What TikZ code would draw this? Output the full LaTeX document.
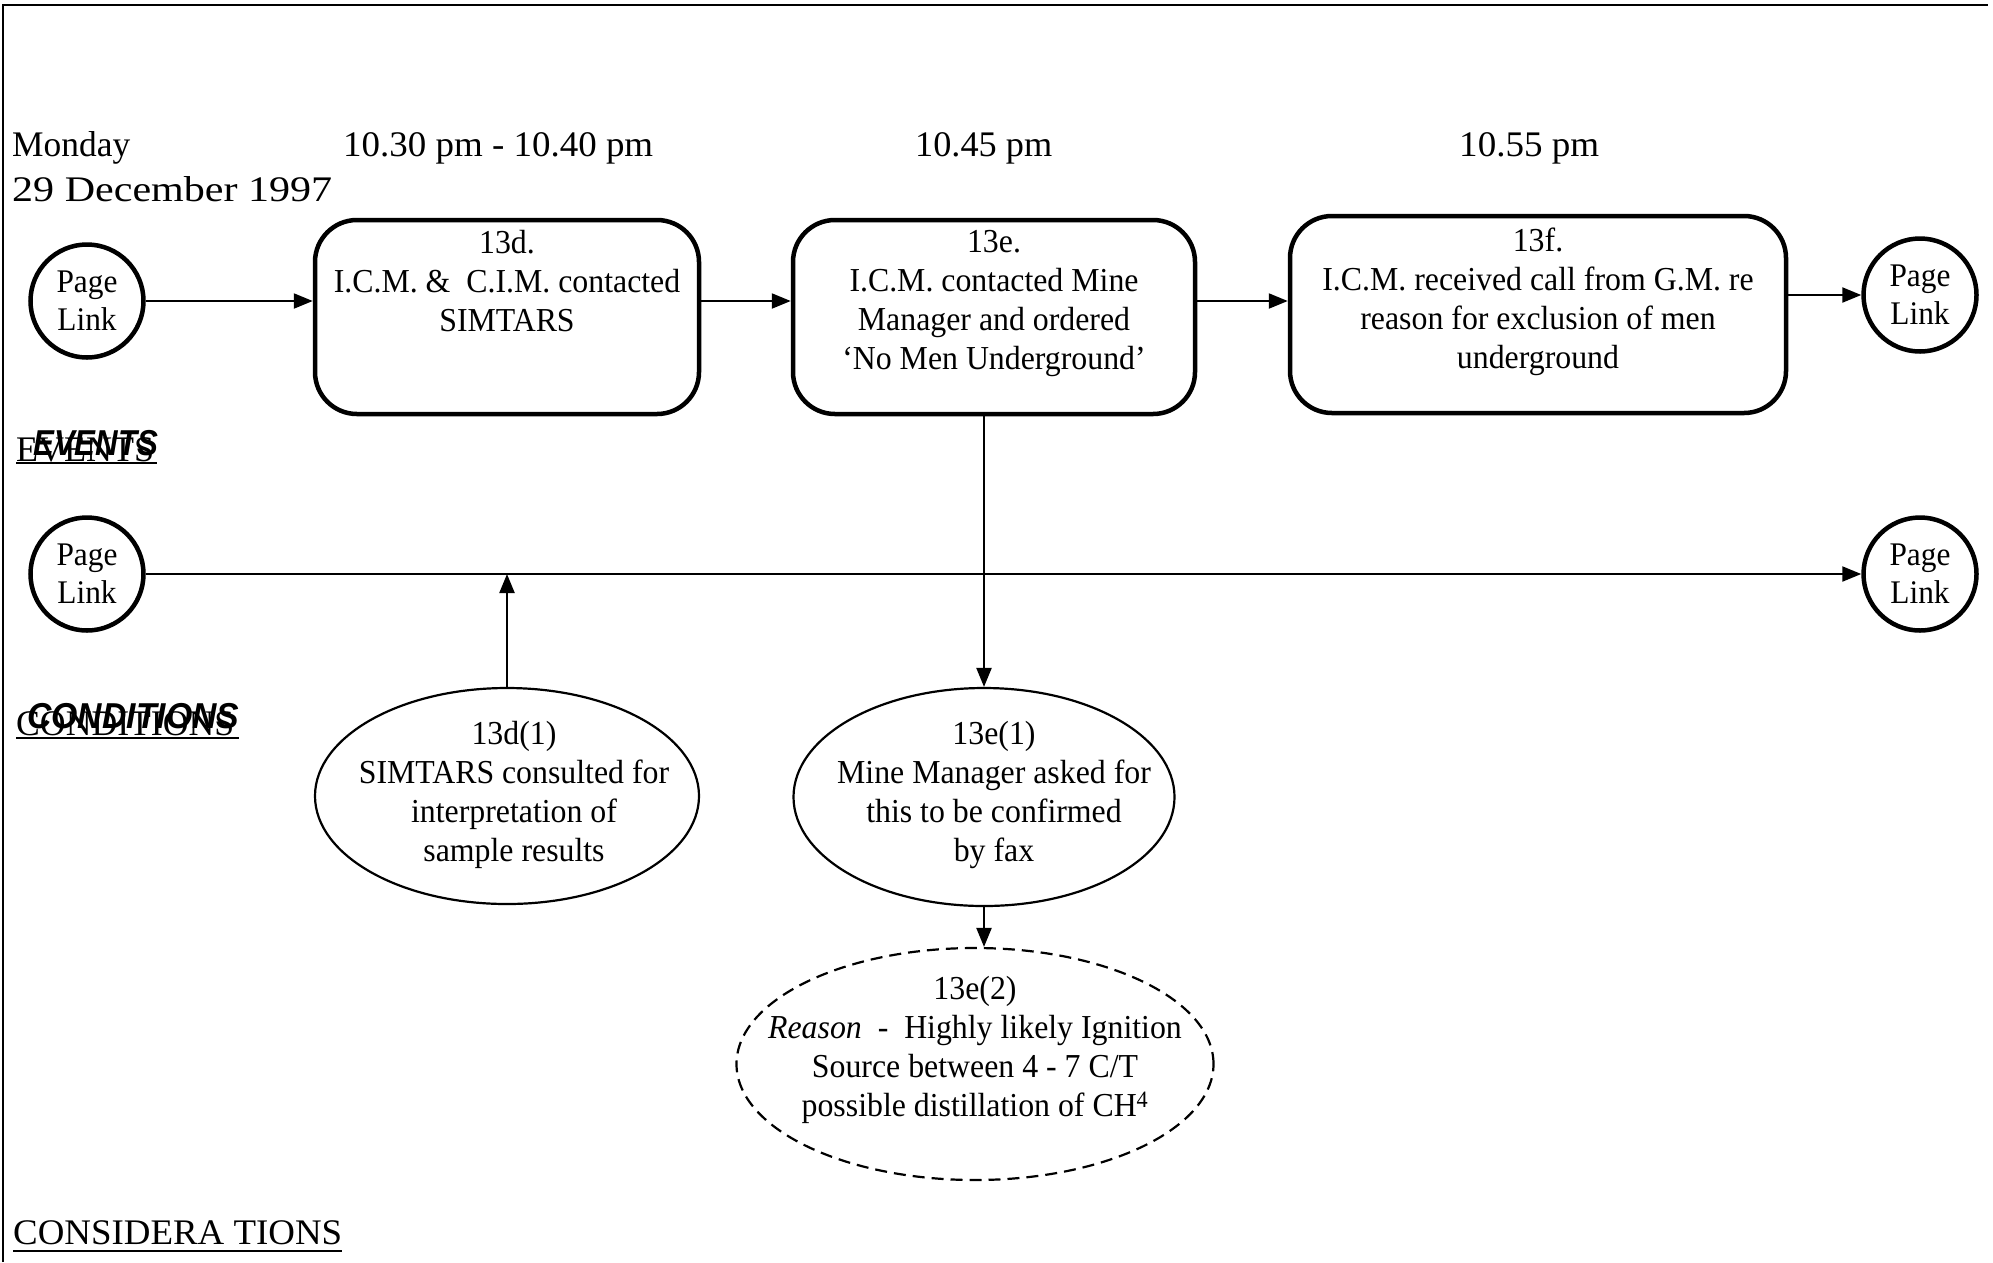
\documentclass[tikz,border=0pt]{standalone}
\usepackage{fontspec}
\usepackage{graphicx}
\setmainfont{Liberation Serif}
\newfontfamily\dgfont[FakeStretch=0.95]{Liberation Serif}
\newfontfamily\ovfont{Liberation Sans}
\usetikzlibrary{arrows.meta,shapes.geometric}
% set a text to a given width, keeping its height
\newcommand\fitto[2]{\resizebox{#1}{\height}{#2}}
\tikzset{
  evbox/.style={draw, line width=4.5pt, rounded corners=42pt, inner sep=0pt},
  plink/.style={draw, circle, line width=4.5pt, minimum size=113pt, inner sep=0pt,
    align=center, font=\dgfont\fontsize{33}{38}\selectfont},
  cond/.style={draw, ellipse, line width=2.2pt, inner sep=0pt},
  txt/.style={align=center, anchor=north, inner sep=0pt, font=\dgfont\fontsize{33.5}{39}\selectfont},
  conn/.style={line width=2.2pt, -{Triangle[length=19pt,width=15pt]}},
  hd/.style={anchor=base west, inner sep=0pt, font=\fontsize{36}{40}\selectfont},
  ov/.style={anchor=base west, inner sep=0pt, font=\ovfont\bfseries\itshape\fontsize{36}{40}\selectfont},
  uline/.style={line width=2pt},
}
\begin{document}
\begin{tikzpicture}[x=1pt,y=-1pt]
\useasboundingbox (0,0) rectangle (1993,1262);
% page frame (top and left edges)
\draw[line width=2pt] (3,1262) -- (3,5) -- (1988,5);

% date and times
\node[hd] (day)  at (12,156)  {\fitto{118pt}{Monday}};
\node[hd] (date) at (12,201)  {\fitto{320pt}{29 December 1997}};
\node[hd] (t1)   at (343,156) {\fitto{310pt}{10.30 pm - 10.40 pm}};
\node[hd] (t2)   at (915,156) {\fitto{137pt}{10.45 pm}};
\node[hd] (t3)   at (1459,156){\fitto{140pt}{10.55 pm}};

% section labels (overprinted)
\node[hd] (evA) at (16,461) {\fitto{138pt}{EVENTS}};
\node[ov] (evB) at (33,455) {\fitto{125pt}{EVENTS}};
\coordinate (evu1) at (16,463); \coordinate (evu2) at (157,463);
\draw[uline] (evu1) -- (evu2);
\node[hd] (coA) at (16,735) {\fitto{218pt}{CONDITIONS}};
\node[ov] (coB) at (27,728) {\fitto{212pt}{CONDITIONS}};
\coordinate (cou1) at (16,738); \coordinate (cou2) at (239,738);
\draw[uline] (cou1) -- (cou2);
\node[hd] (cons) at (13,1244) {\fitto{329pt}{CONSIDERA TIONS}};
\coordinate (csu1) at (13,1251); \coordinate (csu2) at (342,1251);
\draw[uline] (csu1) -- (csu2);

% page links
\node[plink] (pl1) at (87,301)   {Page\\Link};
\node[plink] (pl2) at (1920,295) {Page\\Link};
\node[plink] (pl3) at (87,574)   {Page\\Link};
\node[plink] (pl4) at (1920,574) {Page\\Link};

% events
\node[evbox, minimum width=384pt, minimum height=194pt] (b13d) at (507,317) {};
\node[txt] (b13dt) at (507,230) {13d.\\I.C.M. \&~~C.I.M. contacted\\SIMTARS};
\node[evbox, minimum width=402pt, minimum height=194pt] (b13e) at (994,317) {};
\node[txt] (b13et) at (994,230) {13e.\\I.C.M. contacted Mine\\Manager and ordered\\‘No Men Underground’};
\node[evbox, minimum width=496pt, minimum height=197pt] (b13f) at (1538,314.5) {};
\node[txt] (b13ft) at (1538,228) {13f.\\I.C.M. received call from G.M. re\\reason for exclusion of men\\underground};

% conditions
\node[cond, minimum width=384pt, minimum height=216pt] (e13d1) at (507,796) {};
\node[txt] (e13d1t) at (514,721) {13d(1)\\SIMTARS consulted for\\interpretation of\\sample results};
\node[cond, minimum width=381pt, minimum height=218pt] (e13e1) at (984,797) {};
\node[txt] (e13e1t) at (994,721) {13e(1)\\Mine Manager asked for\\this to be confirmed\\by fax};
\node[cond, dash pattern=on 12pt off 7pt, minimum width=477pt, minimum height=232pt] (e13e2) at (975,1064) {};
\node[txt] (e13e2t) at (975,976) {13e(2)\\\textit{Reason}~~-~~Highly likely Ignition\\Source between 4 - 7 C/T\\possible distillation of CH\textsuperscript{4}};

% connectors
\draw[conn] (pl1) -- (pl1 -| b13d.west);
\draw[conn] (b13d.east |- pl1) -- (b13e.west |- pl1);
\draw[conn] (b13e.east |- pl1) -- (b13f.west |- pl1);
\draw[conn] (b13f.east |- pl2) -- (pl2);
\draw[conn] (pl3) -- (pl4);
\draw[conn] (e13d1.north) -- (e13d1.north |- pl3);
\draw[conn] (b13e.south -| e13e1.north) -- (e13e1.north);
\draw[conn] (e13e1.south) -- (e13e1.south |- e13e2.north);
\end{tikzpicture}
\end{document}
